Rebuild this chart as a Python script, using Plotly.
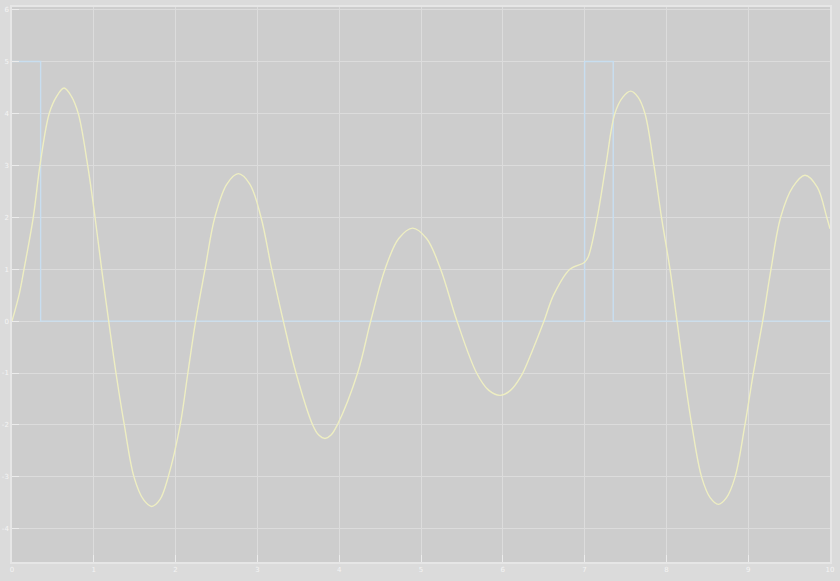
import plotly.graph_objects as go

# Pulse input (step-wise, hv shape)
pulse_x = [0, 0.35, 7.0, 7.35, 10]
pulse_y = [5, 0, 5, 0, 0]

# Response curve
resp_x = [0.0, 0.09, 0.147, 0.26, 0.342, 0.455, 0.546, 0.636, 0.726, 0.81, 0.925, 1.015,
          1.096, 1.182, 1.271, 1.373, 1.491, 1.608, 1.708, 1.808, 1.91, 2.056, 2.15,
          2.245, 2.36, 2.48, 2.627, 2.767, 2.907, 3.044, 3.175, 3.317, 3.472, 3.676,
          3.75, 3.826, 3.90, 3.977, 4.225, 4.385, 4.56, 4.728, 4.898, 5.068,
          5.24, 5.44, 5.68, 5.826, 5.966, 6.09, 6.22, 6.33, 6.504, 6.62, 6.82, 6.997,
          7.045, 7.155, 7.26, 7.37, 7.468, 7.563, 7.653, 7.738, 7.848, 7.94, 8.044,
          8.13, 8.215, 8.31, 8.43, 8.535, 8.635, 8.735, 8.84, 8.96, 9.063, 9.177,
          9.279, 9.397, 9.544, 9.694, 9.844, 9.96, 10.0]
resp_y = [0.0, 0.53, 1.0, 2.0, 3.0, 4.0, 4.33, 4.49, 4.33, 4.0, 3.0, 2.0,
          1.0, 0.0, -1.0, -2.0, -3.0, -3.44, -3.57, -3.44, -3.0, -2.0, -1.0,
          0.0, 1.0, 2.0, 2.64, 2.84, 2.64, 2.0, 1.0, 0.0, -1.0, -2.0,
          -2.195, -2.26, -2.195, -2.0, -1.0, 0.0, 1.0, 1.59, 1.79, 1.59,
          1.0, 0.0, -1.0, -1.33, -1.43, -1.34, -1.07, -0.69, 0.0, 0.5, 1.0, 1.13,
          1.24, 2.0, 3.0, 4.0, 4.315, 4.43, 4.315, 4.0, 3.0, 2.0, 1.0,
          0.0, -1.0, -2.0, -3.0, -3.40, -3.53, -3.40, -3.0, -2.0, -1.0, 0.0,
          1.0, 2.0, 2.58, 2.81, 2.58, 2.0, 1.78]

x_ticks = list(range(0, 11))
y_ticks = list(range(-4, 7))

fig = go.Figure()
fig.add_trace(go.Scatter(x=pulse_x, y=pulse_y, mode="lines", line_shape="hv",
                         line=dict(color="#c8def0", width=1.4), showlegend=False))
fig.add_trace(go.Scatter(x=resp_x, y=resp_y, mode="lines", line_shape="spline",
                         line=dict(color="#eeeec2", width=1.4, smoothing=1.0), showlegend=False))

axis_common = dict(showgrid=True, gridcolor="#dcdcdc", gridwidth=1, automargin=False,
                   zeroline=False, showline=True, linecolor="#e6e6e6", linewidth=1.5,
                   mirror=True, ticks="inside", ticklen=7, tickcolor="#ececec",
                   tickfont=dict(family="DejaVu Sans", size=7, color="#f4f4f4"))

fig.update_xaxes(range=[0, 10], tickvals=x_ticks, ticktext=[str(v) for v in x_ticks],
                 **axis_common)
fig.update_yaxes(range=[-4.64, 6.05], tickvals=y_ticks, ticktext=[str(v) for v in y_ticks],
                 **axis_common)

fig.update_layout(width=840, height=581, margin=dict(l=12, r=10, t=7, b=19),
                  paper_bgcolor="#dbdbdb", plot_bgcolor="#cdcdcd")

fig.write_html("out.html", config={"displayModeBar": False},
               post_script="document.body.style.margin='0';document.body.style.overflow='hidden';")
